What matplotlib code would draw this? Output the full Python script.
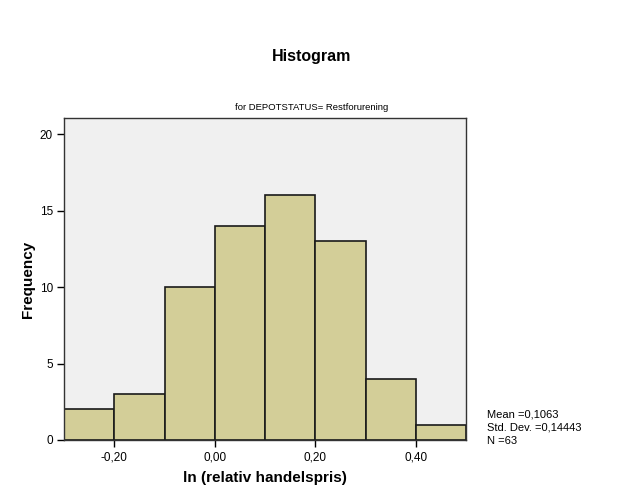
import numpy as np
import matplotlib.pyplot as plt

plt.rcParams['font.family'] = ['Liberation Sans', 'DejaVu Sans']

# bin edges and counts
bin_edges = [-0.3, -0.2, -0.1, 0.0, 0.1, 0.2, 0.3, 0.4, 0.5]
counts = [2, 3, 10, 14, 16, 13, 4, 1]
x_ticks = [-0.2, 0.0, 0.2, 0.4]
x_tick_labels = ['-0,20', '0,00', '0,20', '0,40']
y_ticks = [0, 5, 10, 15, 20]
stats_text = 'Mean =0,1063\nStd. Dev. =0,14443\nN =63'

fig = plt.figure(figsize=(6.24, 5), dpi=100)
ax = fig.add_axes([64/624, 60/500, 402/624, 322/500])
ax.set_facecolor('#f0f0f0')

lefts = np.array(bin_edges[:-1])
widths = np.diff(bin_edges)
ax.bar(lefts, counts, width=widths, align='edge', color='#d3ce98',
       edgecolor='#1a1a1a', linewidth=1.2)

ax.set_xlim(-0.3, 0.5)
ax.set_ylim(0, 21.05)
ax.set_xticks(x_ticks)
ax.set_xticklabels(x_tick_labels)
ax.set_yticks(y_ticks)
ax.tick_params(direction='out', length=5, width=1, labelsize=8.5, pad=3)
for s in ax.spines.values():
    s.set_linewidth(1)
    s.set_color('#333333')

ax.set_xlabel('ln (relativ handelspris)', fontsize=11, fontweight='bold', labelpad=6)
ax.set_ylabel('Frequency', fontsize=11, fontweight='bold', labelpad=3)

fig.text(0.5, 1 - 57/500, 'Histogram', ha='center', va='center',
         fontsize=11.5, fontweight='bold')
fig.text(0.5, 1 - 107/500, 'for DEPOTSTATUS= Restforurening', ha='center',
         va='center', fontsize=6.8)
fig.text(487/624, 1 - 428/500, stats_text, ha='left', va='center',
         fontsize=8, linespacing=1.4)

fig.savefig('out.png', dpi=100)
